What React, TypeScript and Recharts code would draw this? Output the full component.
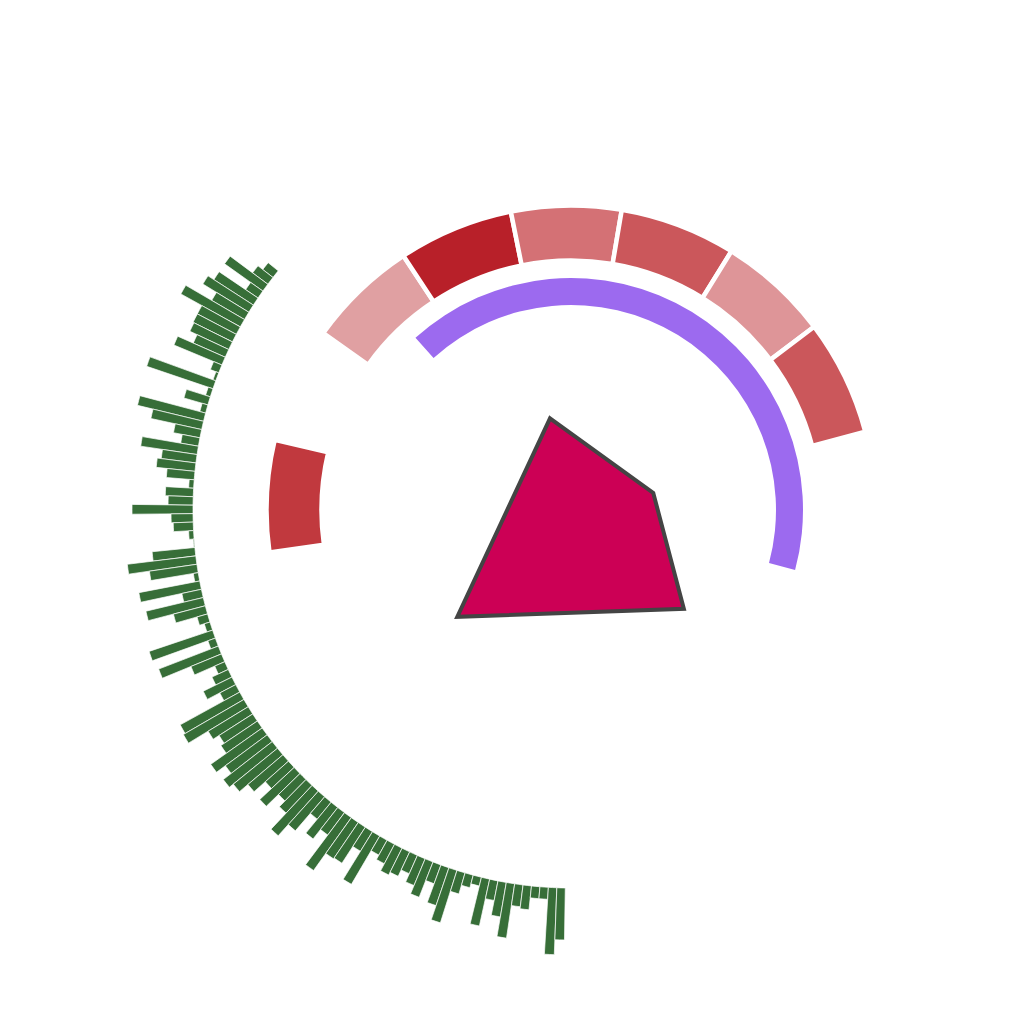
import {
  PieChart,
  Pie,
  Cell,
  RadialBarChart,
  RadialBar,
  RadarChart,
  Radar,
  PolarAngleAxis,
  PolarRadiusAxis,
} from "recharts"

// green spikes, read from top-left (141deg) round to the bottom (269deg)
const spikeValues = [
  13, 19, 47, 15, 47, 54, 38, 68, 44, 44,
  43, 35, 52, 9, 3, 70, 5, 25, 6, 68,
  52, 27, 18, 57, 35, 39, 28, 5, 28, 25,
  61, 22, 20, 5, 1, 43, 69, 48, 5, 62,
  20, 59, 33, 11, 6, 67, 8, 64, 33, 11,
  18, 32, 18, 68, 70, 47, 40, 44, 63, 52,
  62, 57, 46, 31, 47, 30, 38, 60, 45, 22,
  40, 28, 65, 44, 43, 23, 56, 17, 22, 30,
  27, 20, 29, 38, 20, 40, 55, 22, 13, 9,
  48, 20, 35, 55, 22, 24, 12, 12, 67, 52,
]
const spikeNames = spikeValues.map((_, i) => `s${i + 1}`)

// outer ring pieces (sizes in degrees), one is a hidden spacer
const ringNames = ["A", "gap", "B", "C", "D", "E", "F", "G"]
const ringValues = [21.35, 22.2, 21.05, 22.0, 21.0, 22.2, 21.2, 22.1]
const ringColors = ["#c1393e", "transparent", "#e0a0a2", "#b82029", "#d47175", "#cb575b", "#de9598", "#cb575b"]

const arcValues = [1]

// polygon corners: angle (deg) and radius
const shapeAngles = [102.9, 11.7, 318.8, 223.2]
const shapeRadii = [94, 84, 150, 156]

const spikeData = spikeNames.map((name, i) => ({ name, value: spikeValues[i] }))
const ringData = ringNames.map((name, i) => ({ name, value: ringValues[i] }))
const arcData = arcValues.map((value) => ({ name: "arc", value }))
const shapeData = shapeAngles.map((angle, i) => ({ angle, r: shapeRadii[i] }))

const CX = 571
const CY = 510
const noMargin = { top: 0, right: 0, bottom: 0, left: 0 }
const layer: React.CSSProperties = { position: "absolute", left: 0, top: 0 }

export default function App() {
  return (
    <div style={{ position: "absolute", left: 0, top: 0, width: 1024, height: 1024, background: "#fff" }}>
      <div style={layer}>
        <RadialBarChart
          width={1024}
          height={1024}
          data={spikeData}
          layout="centric"
          cx={CX}
          cy={CY}
          innerRadius={378}
          outerRadius={448}
          startAngle={142.04}
          endAngle={270.42}
          barCategoryGap="0%"
          barGap={0}
          margin={noMargin}
        >
          <PolarAngleAxis type="category" dataKey="name" tick={false} tickLine={false} axisLine={false} />
          <PolarRadiusAxis type="number" domain={[0, 70]} tick={false} axisLine={false} />
          <RadialBar
            dataKey="value"
            barSize={1.28}
            fill="#376e38"
            stroke="#fff"
            strokeWidth={0.7}
            isAnimationActive={false}
          />
        </RadialBarChart>
      </div>
      <div style={layer}>
        <PieChart width={1024} height={1024} margin={noMargin}>
          <Pie
            data={ringData}
            dataKey="value"
            nameKey="name"
            cx={CX}
            cy={CY}
            innerRadius={249.5}
            outerRadius={304.5}
            startAngle={188}
            endAngle={14.9}
            stroke="#fff"
            strokeWidth={4.5}
            isAnimationActive={false}
          >
            {ringData.map((d, i) => (
              <Cell key={d.name} fill={ringColors[i]} stroke={d.name === "gap" ? "none" : "#fff"} />
            ))}
          </Pie>
          <Pie
            data={arcData}
            dataKey="value"
            cx={CX}
            cy={CY}
            innerRadius={205}
            outerRadius={232}
            startAngle={132.1}
            endAngle={-15}
            fill="#9c6aef"
            stroke="none"
            isAnimationActive={false}
          />
        </PieChart>
      </div>
      <div style={layer}>
        <RadarChart
          width={1024}
          height={1024}
          data={shapeData}
          cx={CX}
          cy={CY}
          innerRadius={0}
          outerRadius={200}
          startAngle={0}
          endAngle={360}
          margin={noMargin}
        >
          <PolarAngleAxis type="number" dataKey="angle" domain={[0, 360]} tick={false} tickLine={false} axisLine={false} />
          <PolarRadiusAxis type="number" domain={[0, 200]} tick={false} axisLine={false} />
          <Radar
            dataKey="r"
            fill="#cc0055"
            fillOpacity={1}
            stroke="#444444"
            strokeWidth={4}
            isAnimationActive={false}
          />
        </RadarChart>
      </div>
    </div>
  )
}
